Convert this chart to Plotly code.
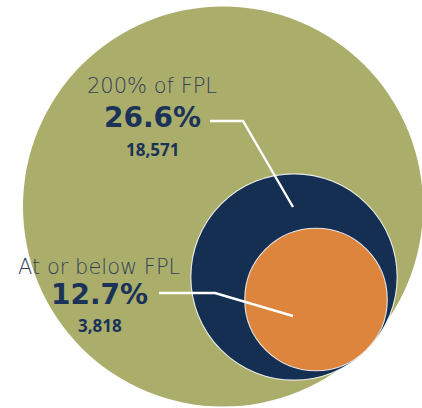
import numpy as np
import plotly.graph_objects as go

# ---- data ----
groups = ["All", "200% of FPL", "At or below FPL"]
shares = [100.0, 26.6, 12.7]          # percent of total
labels = ["200% of FPL", "At or below FPL"]
pct_labels = ["26.6%", "12.7%"]
count_labels = ["18,571", "3,818"]

# ---- styling / layout ----
W, H = 422, 408
colors = ["#abae6b", "#152f52", "#dd843d"]
R = 200.0                               # radius of the 100% circle (px)
centers = [(223.0, 206.5), (294.0, 277.0), (316.0, 299.5)]
radii = [R * np.sqrt(s / 100.0) for s in shares]

fig = go.Figure()

shapes = []
for i, (c, r, col) in enumerate(zip(centers, radii, colors)):
    shapes.append(dict(
        type="circle", xref="x", yref="y",
        x0=c[0] - r, x1=c[0] + r, y0=c[1] - r, y1=c[1] + r,
        fillcolor=col,
        line=dict(color="rgba(255,255,255,0.85)" if i > 0 else col, width=1.1 if i > 0 else 0),
        layer="below",
    ))

# leader lines (label anchor -> circle)
leaders = [
    ([210, 243, 293], [121, 121, 207]),
    ([159, 215, 293], [293, 293, 316]),
]
for lx, ly in leaders:
    fig.add_trace(go.Scatter(x=lx, y=ly, mode="lines",
                             line=dict(color="white", width=2.4),
                             hoverinfo="skip", showlegend=False))

txt_label = "#2f425a"
txt_num = "#1b3358"
annos = []
label_pos = [(152, 86), (99, 267)]
pct_pos = [(152, 117.5), (99, 294)]
cnt_pos = [(152, 149.5), (100, 325.5)]
pct_sizes = [28, 28]
for i in range(2):
    annos.append(dict(x=label_pos[i][0], y=label_pos[i][1], text=labels[i],
                      showarrow=False, xanchor="center", yanchor="middle",
                      font=dict(family="DejaVu Sans", size=21, color=txt_label, weight=200)))
    annos.append(dict(x=pct_pos[i][0], y=pct_pos[i][1], text=pct_labels[i],
                      showarrow=False, xanchor="center", yanchor="middle",
                      font=dict(family="DejaVu Sans", size=pct_sizes[i], color=txt_num, weight=700)))
    annos.append(dict(x=cnt_pos[i][0], y=cnt_pos[i][1], text=count_labels[i],
                      showarrow=False, xanchor="center", yanchor="middle",
                      font=dict(family="Open Sans", size=17, color=txt_num, weight=700)))

fig.update_layout(
    width=W, height=H,
    margin=dict(l=0, r=0, t=0, b=0),
    paper_bgcolor="white", plot_bgcolor="white",
    xaxis=dict(range=[0, W], visible=False, fixedrange=True),
    yaxis=dict(range=[H, 0], visible=False, fixedrange=True),
    shapes=shapes,
    annotations=annos,
    showlegend=False,
)

fig.write_html("out.html", config={"displayModeBar": False},
               post_script="document.body.style.margin='0';document.body.style.overflow='hidden';")
